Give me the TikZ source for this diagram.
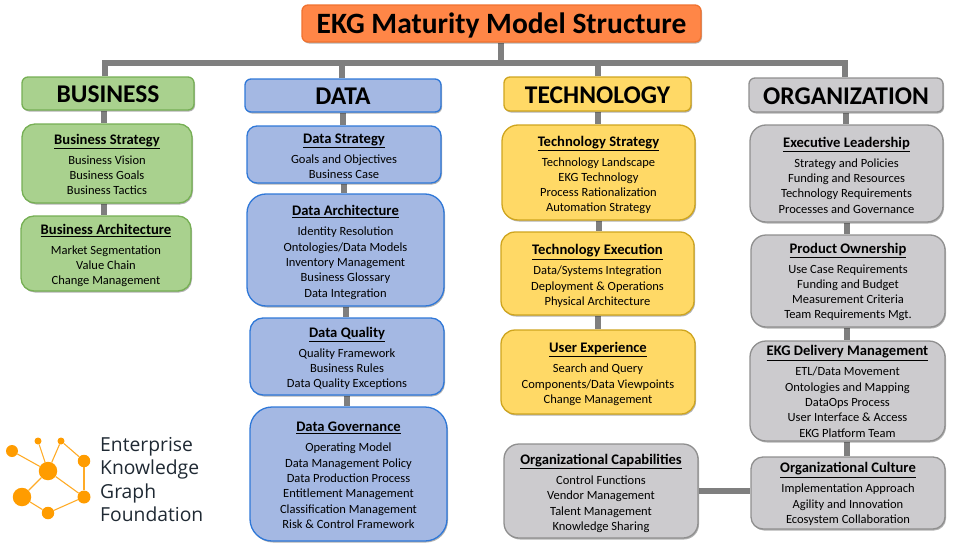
\documentclass[tikz,border=0pt]{standalone}
\usepackage{fontspec}
\setmainfont{Carlito}
\newfontfamily\logofont{Open Sans}
\usetikzlibrary{shadows,backgrounds,calc}
\definecolor{fOrange}{HTML}{FF8647}\definecolor{dOrange}{HTML}{F0722F}
\definecolor{fGreen}{HTML}{A9D18E}\definecolor{dGreen}{HTML}{76AF54}
\definecolor{fBlue}{HTML}{A4B8E3}\definecolor{dBlue}{HTML}{2F78D8}
\definecolor{fYellow}{HTML}{FFD966}\definecolor{dYellow}{HTML}{CFA51E}
\definecolor{fGrey}{HTML}{CCCBCE}\definecolor{dGrey}{HTML}{8F8F8F}
\definecolor{connC}{HTML}{7F7F7F}\definecolor{logoC}{HTML}{FF9C00}\definecolor{logoT}{HTML}{1F2933}
\tikzset{
 x=1pt,y=-1pt,
 card/.style={rectangle,line width=1.3pt,inner sep=0pt,align=center,text=black,
   drop shadow={shadow xshift=1pt,shadow yshift=-1.5pt,opacity=.3,fill=black}},
 green/.style={card,fill=fGreen,draw=dGreen},
 blue/.style={card,fill=fBlue,draw=dBlue},
 yellow/.style={card,fill=fYellow,draw=dYellow},
 grey/.style={card,fill=fGrey,draw=dGrey},
 orange/.style={card,fill=fOrange,draw=dOrange},
 conn/.style={draw=connC,line width=6pt},
 lline/.style={draw=logoC!85!white,line width=1.1pt},
 ldot/.style={circle,fill=logoC,inner sep=0pt},
}
\newcommand{\bx}[8]{% name style l t r b radius text
 \pgfmathsetmacro{\cxx}{(#3+#5)/2}\pgfmathsetmacro{\cyy}{(#4+#6)/2}
 \pgfmathsetmacro{\www}{#5-#3}\pgfmathsetmacro{\hhh}{#6-#4}
 \node[#2,rounded corners=#7pt,minimum width=\www pt,minimum height=\hhh pt] (#1) at (\cxx,\cyy) {#8};}
\newcommand{\hd}[1]{\raisebox{-1pt}[\height][\depth]{\fontsize{25.5}{27}\selectfont\bfseries #1}}
\newcommand{\tl}[1]{\raisebox{-2pt}[\height][\depth]{\fontsize{29.5}{31}\selectfont\bfseries #1}}
\newcommand{\cardtext}[3][2]{\raisebox{-#1pt}[\height][\depth]{\parbox{\www pt}{\centering\fontsize{14.6}{15.3}\selectfont\bfseries\underline{#2}\\[4.7pt]\fontsize{12.5}{15.3}\selectfont\mdseries #3\par}}}
\newcommand{\vc}[3]{\draw[conn] ([xshift=#3pt]#1.south) -- ([xshift=#3pt]#1.south |- #2.north);}
\newcommand{\ld}[4]{\node[ldot,minimum size=#4pt] (#1) at (#2,#3) {};}
\begin{document}
\begin{tikzpicture}
\useasboundingbox (0,0) rectangle (954,546);
\bx{title}{orange}{302}{5}{701}{42}{6}{\tl{EKG Maturity Model Structure}}
\bx{bus}{green}{22}{77}{194}{110}{6}{\hd{BUSINESS}}
\bx{bs}{green}{22}{124}{192}{203}{13}{\cardtext[1]{Business Strategy}{Business Vision\\Business Goals\\Business Tactics}}
\bx{ba}{green}{21}{216}{191}{291}{13}{\cardtext{Business Architecture}{Market Segmentation\\Value Chain\\Change Management}}
\bx{dat}{blue}{245}{79}{441}{112}{6}{\hd{DATA}}
\bx{ds}{blue}{247}{126}{441}{183}{10}{\cardtext[1.5]{Data Strategy}{Goals and Objectives\\Business Case}}
\bx{da}{blue}{247}{194}{444}{306}{19}{\cardtext[2.5]{Data Architecture}{Identity Resolution\\Ontologies/Data Models\\Inventory Management\\Business Glossary\\Data Integration}}
\bx{dq}{blue}{250}{318}{444}{395}{13}{\cardtext{Data Quality}{Quality Framework\\Business Rules\\Data Quality Exceptions}}
\bx{dg}{blue}{250}{407}{447}{541}{22}{\cardtext[1.5]{Data Governance}{Operating Model\\Data Management Policy\\Data Production Process\\Entitlement Management\\Classification Management\\Risk \& Control Framework}}
\bx{tec}{yellow}{504}{77}{691}{111}{6}{\hd{TECHNOLOGY}}
\bx{ts}{yellow}{502}{125}{695}{220}{16}{\cardtext[2.5]{Technology Strategy}{Technology Landscape\\EKG Technology\\Process Rationalization\\Automation Strategy}}
\bx{te}{yellow}{501}{232}{694}{315}{14}{\cardtext[2.5]{Technology Execution}{Data/Systems Integration\\Deployment \& Operations\\Physical Architecture}}
\bx{ux}{yellow}{501}{330}{695}{414}{14}{\cardtext[2]{User Experience}{Search and Query\\Components/Data Viewpoints\\Change Management}}
\bx{org}{grey}{749}{78}{943}{112}{6}{\hd{ORGANIZATION}}
\bx{el}{grey}{750}{125}{943}{222}{16}{\cardtext[1.5]{Executive Leadership}{Strategy and Policies\\Funding and Resources\\Technology Requirements\\Processes and Governance}}
\bx{po}{grey}{751}{235}{945}{327}{15}{\cardtext[1]{Product Ownership}{Use Case Requirements\\Funding and Budget\\Measurement Criteria\\Team Requirements Mgt.}}
\bx{ed}{grey}{750}{341}{945}{441}{16}{\cardtext[0.5]{EKG Delivery Management}{ETL/Data Movement\\Ontologies and Mapping\\DataOps Process\\User Interface \& Access\\EKG Platform Team}}
\bx{oc}{grey}{751}{457}{945}{529}{12}{\cardtext[1]{Organizational Culture}{Implementation Approach\\Agility and Innovation\\Ecosystem Collaboration}}
\bx{oca}{grey}{504}{444}{698}{538}{15}{\cardtext[2.5]{Organizational Capabilities}{Control Functions\\Vendor Management\\Talent Management\\Knowledge Sharing}}
\coordinate (barL) at (105,63);
\coordinate (barR) at (845,63);
\begin{scope}[on background layer]
 \draw[conn] ([xshift=-3pt]bus.north) -- ([xshift=-3pt]bus.north |- barL) -- (barR) -- ([xshift=-1pt]org.north);
 \draw[conn] ([xshift=-0.5pt]title.south) -- ([xshift=-0.5pt]title.south |- barL);
 \draw[conn] ([xshift=-1pt]dat.north) -- ([xshift=-1pt]dat.north |- barL);
 \draw[conn] ([xshift=0.5pt]tec.north) -- ([xshift=0.5pt]tec.north |- barL);
 \vc{bus}{bs}{-4}\vc{bs}{ba}{-3}
 \vc{dat}{ds}{0}\vc{ds}{da}{0}\vc{da}{dq}{0}\vc{dq}{dg}{0}
 \vc{tec}{ts}{0.5}\vc{ts}{te}{0}\vc{te}{ux}{0.5}
 \vc{org}{el}{0}\vc{el}{po}{0}\vc{po}{ed}{-1}\vc{ed}{oc}{-0.5}
 \draw[conn] (oca.east) -- (oca.east -| oc.west);
\end{scope}
% logo
\ld{n1}{12}{451}{12}\ld{n2}{38}{441}{7}\ld{n3}{61}{441}{7}\ld{n4}{84}{461}{12.5}
\ld{n5}{48}{471}{18.5}\ld{n6}{22}{497}{18.5}\ld{n7}{84}{497}{13}\ld{n8}{48}{513}{12.5}
\begin{scope}[on background layer]
 \foreach \a/\b in {n1/n5,n2/n5,n3/n5,n3/n4,n4/n7,n5/n7,n5/n6,n6/n8,n8/n7}{\draw[lline] (\a) -- (\b);}
\end{scope}
\node[anchor=west,align=left,inner sep=0pt,text=logoT,font=\logofont\fontsize{19.3}{23.3}\selectfont] (logotext) at (100,479.5) {Enterprise\\Knowledge\\Graph\\Foundation};
\end{tikzpicture}
\end{document}
